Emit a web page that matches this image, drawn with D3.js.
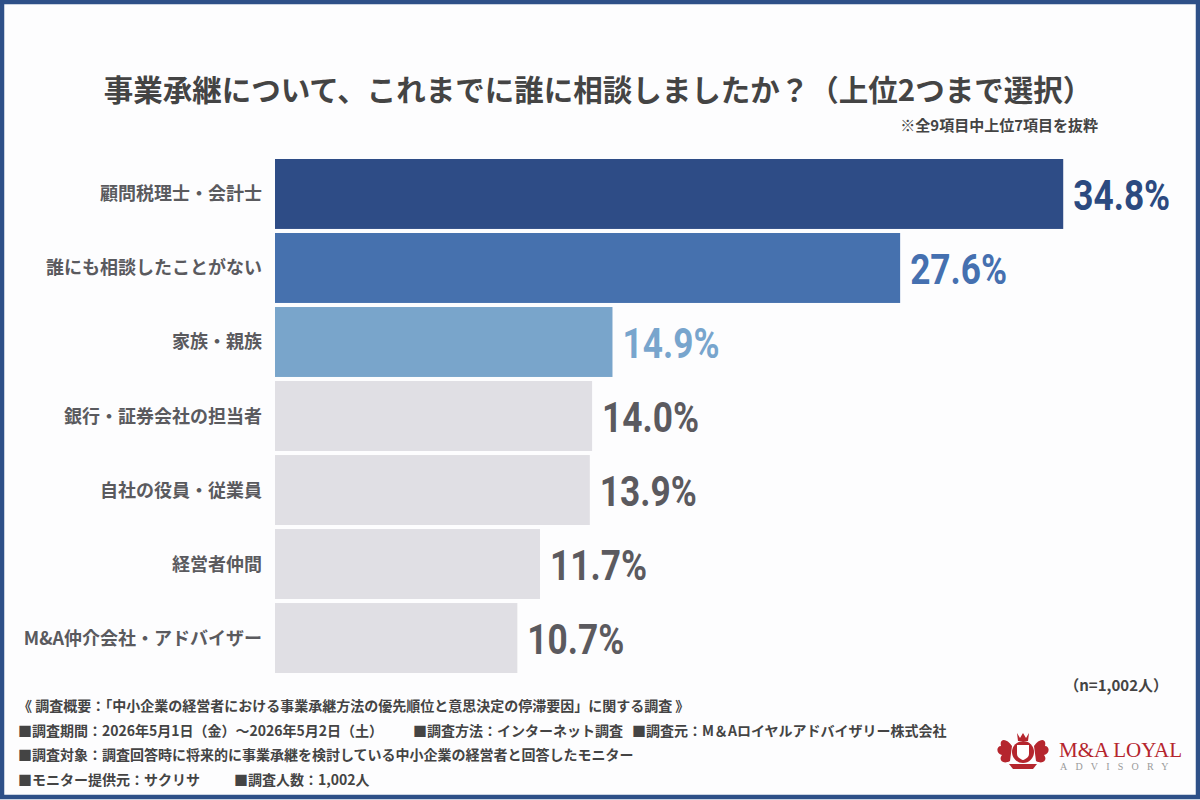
<!DOCTYPE html>
<html lang="ja">
<head>
<meta charset="utf-8">
<script src="https://cdn.jsdelivr.net/npm/d3@7"></script>
<style>
  html, body { margin: 0; padding: 0; background: #fff; }
  svg { display: block; }
  .jp { font-family: "Noto Sans CJK JP", "Noto Sans", sans-serif; font-weight: 700; }
  .num { font-family: Roboto, "DejaVu Sans", sans-serif; font-weight: 700; }
</style>
</head>
<body>
<svg id="chart" width="1200" height="800"></svg>
<script>
// --- data ---
const categories = [
    '顧問税理士・会計士',
    '誰にも相談したことがない',
    '家族・親族',
    '銀行・証券会社の担当者',
    '自社の役員・従業員',
    '経営者仲間',
    'M&A仲介会社・アドバイザー'
];
const values = [34.8, 27.6, 14.9, 14.0, 13.9, 11.7, 10.7];
const barColors = ['#2e4c86', '#4671ae', '#79a5cb', '#e0dfe4', '#e0dfe4', '#e0dfe4', '#e0dfe4'];
const valueColors = ['#2c4a80', '#4570b0', '#78a5cd', '#5b5a5f', '#5b5a5f', '#5b5a5f', '#5b5a5f'];

const titleText = '事業承継について、これまでに誰に相談しましたか？（上位2つまで選択）';
const noteText = '※全9項目中上位7項目を抜粋';
const sampleText = '（n=1,002人）';
const footerLines = [
    ['《 調査概要：「中小企業の経営者における事業承継方法の優先順位と意思決定の停滞要因」に関する調査 》'],
    ['■調査期間：2026年5月1日（金）～2026年5月2日（土）', '■調査方法：インターネット調査', '■調査元：M＆Aロイヤルアドバイザリー株式会社'],
    ['■調査対象：調査回答時に将来的に事業承継を検討している中小企業の経営者と回答したモニター'],
    ['■モニター提供元：サクリサ', '■調査人数：1,002人']
];
const footerX = [[18], [18, 413, 632], [18], [18, 234]];

const svg = d3.select('#chart');
const W = 1200, H = 800;

// background + frame
svg.append('rect').attr('width', W).attr('height', H).attr('fill', '#fdfdfe');
svg.append('rect')
    .attr('x', 2).attr('y', 2).attr('width', W - 4).attr('height', H - 5)
    .attr('fill', 'none').attr('stroke', '#2e5088').attr('stroke-width', 4.5);

// title
svg.append('text').attr('class', 'jp')
    .attr('x', 598).attr('y', 101)
    .attr('text-anchor', 'middle')
    .attr('font-size', 29.5).attr('fill', '#444')
    .text(titleText);

svg.append('text').attr('class', 'jp')
    .attr('x', 1098).attr('y', 131)
    .attr('text-anchor', 'end')
    .attr('font-size', 15).attr('fill', '#444')
    .text(noteText);

// --- scales ---
const x = d3.scaleLinear().domain([0, 40]).range([275, 1181]);
const y = d3.scaleBand().domain(categories).range([159, 673]).paddingInner(0.055).paddingOuter(0);

const g = svg.append('g');

g.selectAll('.bar')
    .data(values)
    .enter().append('rect')
    .attr('class', 'bar')
    .attr('x', x(0))
    .attr('y', (d, i) => y(categories[i]))
    .attr('width', d => x(d) - x(0))
    .attr('height', y.bandwidth())
    .attr('fill', (d, i) => barColors[i]);

// category labels
g.selectAll('.cat')
    .data(categories)
    .enter().append('text')
    .attr('class', 'jp cat')
    .attr('x', 262)
    .attr('y', d => y(d) + y.bandwidth() / 2 + 6.5)
    .attr('text-anchor', 'end')
    .attr('font-size', 18)
    .attr('fill', '#5a5a5e')
    .text(d => d);

// value labels (condensed look: squeeze horizontally)
const vals = g.selectAll('.val')
    .data(values)
    .enter().append('text')
    .attr('class', 'num val')
    .attr('font-size', 43)
    .attr('fill', (d, i) => valueColors[i])
    .text(d => d.toFixed(1) + '%');
const refLen = vals.nodes()[0].getComputedTextLength();
const squeeze = 97 / refLen;
vals.attr('transform', (d, i) =>
    `translate(${x(d) + 10},${y(categories[i]) + y.bandwidth() / 2 + 16}) scale(${squeeze},1)`);

// sample size
svg.append('text').attr('class', 'jp')
    .attr('x', 1168).attr('y', 691)
    .attr('text-anchor', 'end')
    .attr('font-size', 15).attr('fill', '#444')
    .text(sampleText);

// footer
footerLines.forEach((line, li) => {
    line.forEach((t, ti) => {
        svg.append('text').attr('class', 'jp')
            .attr('x', footerX[li][ti])
            .attr('y', 711 + li * 24.5)
            .attr('font-size', 14)
            .attr('fill', '#444')
            .text(t);
    });
});

// logo (simplified crest + wordmark)
const logo = svg.append('g').attr('transform', 'translate(1023,752)');
const red = '#b5252d';
logo.append('path')
    .attr('d', 'M-11,-6 C-16,-14 -24,-14 -22,-6 C-27,-6 -27,2 -21,3 C-25,8 -20,13 -13,9 Z M11,-6 C16,-14 24,-14 22,-6 C27,-6 27,2 21,3 C25,8 20,13 13,9 Z')
    .attr('fill', red);
logo.append('circle').attr('r', 11).attr('fill', red);
logo.append('path')
    .attr('d', 'M-6,-7 L6,-7 L6,2 C6,6 0,8 0,8 C0,8 -6,6 -6,2 Z')
    .attr('fill', '#fff');
logo.append('path')
    .attr('d', 'M-6,-19 L-3,-14 L0,-19 L3,-14 L6,-19 L5,-11 L-5,-11 Z')
    .attr('fill', red);
logo.append('path')
    .attr('d', 'M-14,12 L14,12 L10,17 L-10,17 Z')
    .attr('fill', red);
svg.append('text')
    .attr('x', 1059).attr('y', 757)
    .attr('font-family', '"Liberation Serif", "DejaVu Serif", serif')
    .attr('font-size', 21).attr('fill', red)
    .text('M&A LOYAL');
svg.append('text')
    .attr('x', 1060).attr('y', 770)
    .attr('font-family', '"Liberation Serif", "DejaVu Serif", serif')
    .attr('font-size', 10).attr('fill', '#9a9a9a')
    .attr('letter-spacing', 8.2)
    .text('ADVISORY');
</script>
</body>
</html>
